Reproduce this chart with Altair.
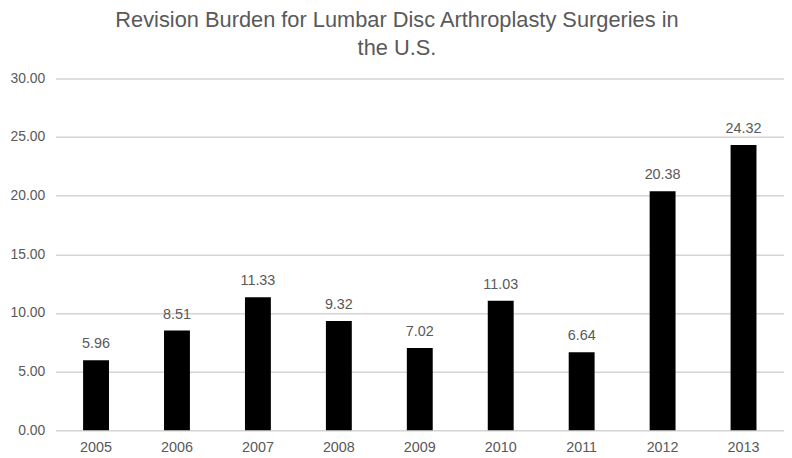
import altair as alt
import pandas as pd

years = ["2005", "2006", "2007", "2008", "2009", "2010", "2011", "2012", "2013"]
values = [5.96, 8.51, 11.33, 9.32, 7.02, 11.03, 6.64, 20.38, 24.32]
labels = [f"{v:.2f}" for v in values]

df = pd.DataFrame({"year": years, "value": values, "label": labels})

FONT = "Liberation Sans"
GRAY = "#595959"

base = alt.Chart(df).encode(
    x=alt.X("year:N", sort=years, title=None,
            scale=alt.Scale(paddingInner=0.68, paddingOuter=0.34, round=False),
            axis=alt.Axis(labelAngle=0, labelFont=FONT, labelFontSize=14.5,
                          labelColor=GRAY, ticks=False, domain=False,
                          labelPadding=10, grid=False)),
    y=alt.Y("value:Q", title=None,
            scale=alt.Scale(domain=[0, 30]),
            axis=alt.Axis(values=[0, 5, 10, 15, 20, 25, 30], format=".2f",
                          labelFont=FONT, labelFontSize=14, labelColor=GRAY,
                          ticks=False, domain=False, labelPadding=11,
                          gridColor="#d4d4d4", gridWidth=1.5)),
)

bars = base.mark_bar(color="#000000")
text = base.mark_text(baseline="bottom", dy=-9, font=FONT, fontSize=14.5,
                      color=GRAY).encode(text="label:N")

chart = (bars + text).properties(
    width=735, height=355,
    autosize=alt.AutoSizeParams(type="none"),
    padding={"left": 48, "top": 69, "right": 0, "bottom": 25},
    title=alt.TitleParams(
        ["Revision Burden for Lumbar Disc Arthroplasty Surgeries in", "the U.S."],
        font=FONT, fontSize=22, fontWeight="normal", color=GRAY,
        anchor="middle", frame="group", dx=-23, offset=12, lineHeight=28,
    ),
).configure_view(stroke=None)

chart.save("out.html", embed_options={"renderer": "svg", "actions": False})
